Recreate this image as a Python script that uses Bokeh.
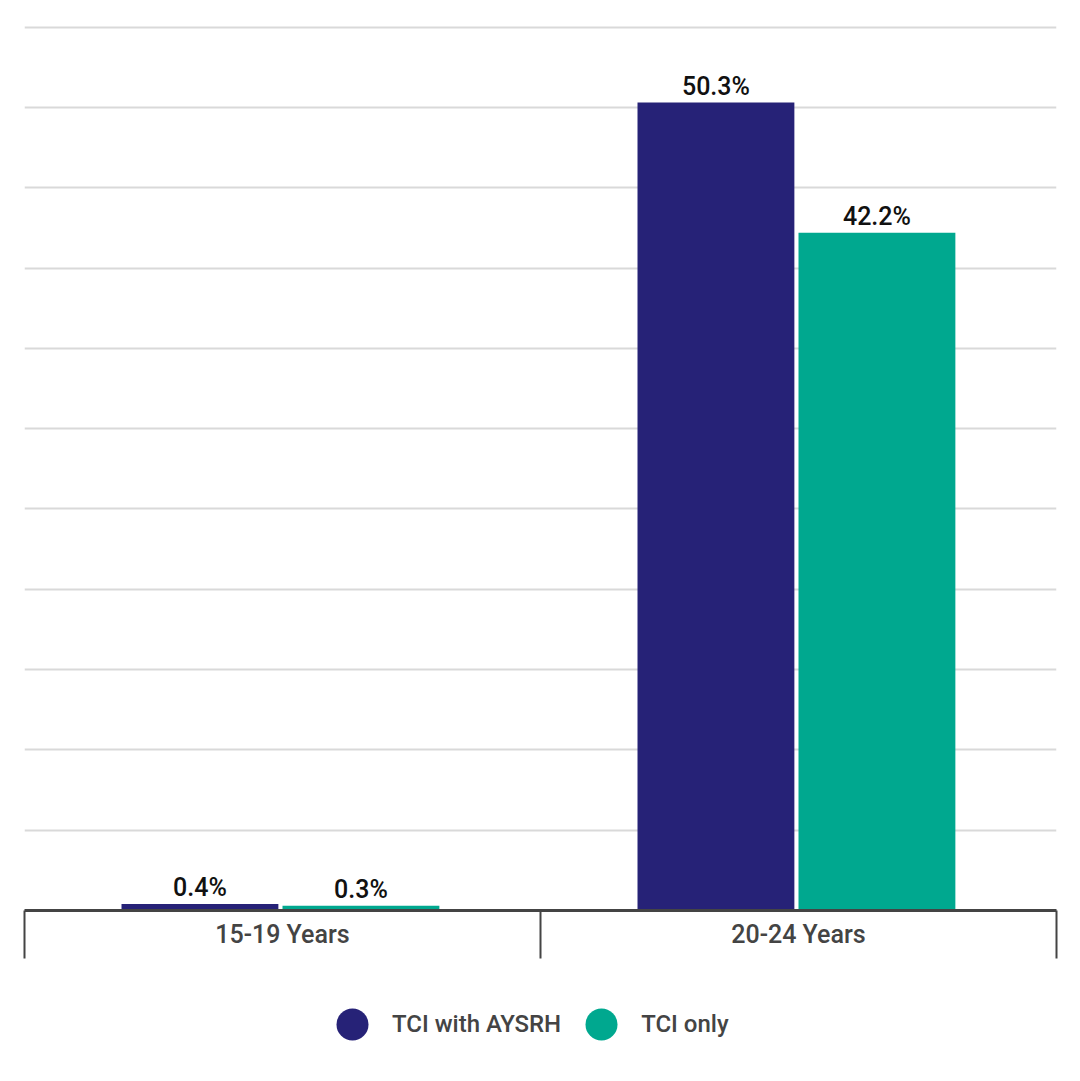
from bokeh.plotting import figure
from bokeh.layouts import column
from bokeh.models import ColumnDataSource, Range1d, FixedTicker, Legend, LegendItem, LabelSet
from bokeh.core.properties import value
from bokeh.embed import file_html
from bokeh.resources import INLINE

categories = ["15-19 Years", "20-24 Years"]
series_names = ["TCI with AYSRH", "TCI only"]
tci_aysrh = [0.4, 50.3]
tci_only = [0.3, 42.2]
colors = ["#262277", "#00A88F"]

FONT = "'Roboto Medium', Roboto"

p = figure(width=1080, height=970, output_backend="svg", toolbar_location=None,
           x_range=Range1d(0, len(categories)), y_range=Range1d(0, 55.1),
           min_border_left=24, min_border_right=24, min_border_top=25, min_border_bottom=60)
p.outline_line_color = None
p.background_fill_color = "white"
p.border_fill_color = "white"

offsets = [-0.16, 0.152]
width = 0.304
for vals, col, off in zip([tci_aysrh, tci_only], colors, offsets):
    xs = [k + 0.5 + off for k in range(len(categories))]
    src = ColumnDataSource(dict(x=xs, top=vals, label=[f"{v:.1f}%" for v in vals]))
    p.vbar(x="x", top="top", width=width, bottom=0, source=src, color=col, line_color=None)
    lbl = LabelSet(x="x", y="top", text="label", source=src, text_align="center",
                   text_baseline="bottom", y_offset=2, text_font=value(FONT),
                   text_font_size="25px", text_color="#111111")
    p.add_layout(lbl)

p.yaxis.visible = False
p.ygrid.ticker = FixedTicker(ticks=list(range(5, 60, 5)))
p.ygrid.grid_line_color = "#d9d9d9"
p.ygrid.grid_line_width = 2
p.xgrid.visible = False

ax = p.xaxis[0]
ax.ticker = FixedTicker(ticks=[k + 0.5 for k in range(len(categories))],
                        minor_ticks=list(range(len(categories) + 1)))
ax.major_label_overrides = {k + 0.5: c for k, c in enumerate(categories)}
ax.major_tick_line_color = None
ax.major_tick_out = 0
ax.major_tick_in = 0
ax.minor_tick_out = 48
ax.minor_tick_in = 0
ax.minor_tick_line_color = "#444444"
ax.minor_tick_line_width = 2
ax.axis_line_color = "#444444"
ax.axis_line_width = 3
ax.major_label_text_font = FONT
ax.major_label_text_font_size = "25px"
ax.major_label_text_color = "#444444"
ax.major_label_standoff = -39

# legend in its own strip below the chart
lf = figure(width=1080, height=108, output_backend="svg", toolbar_location=None,
            x_range=Range1d(0, 1), y_range=Range1d(0, 1),
            min_border_left=0, min_border_right=0, min_border_top=0, min_border_bottom=0)
lf.axis.visible = False
lf.grid.visible = False
lf.outline_line_color = None
legend_renderers = []
for col in colors:
    lr = lf.scatter(x=[-10], y=[-10], size=32, fill_color=col, line_color=None)
    legend_renderers.append(lr)

legend = Legend(items=[LegendItem(label=n, renderers=[r]) for n, r in zip(series_names, legend_renderers)],
                orientation="horizontal", location=(288, 14),
                glyph_width=80, glyph_height=80, label_standoff=-13, spacing=-14,
                padding=0, margin=0, border_line_color=None, background_fill_alpha=0,
                label_text_font=FONT, label_text_font_size="24px", label_text_color="#444444")
lf.add_layout(legend, "center")

layout = column(p, lf, spacing=0)
open("out.html", "w").write(file_html(layout, INLINE))
